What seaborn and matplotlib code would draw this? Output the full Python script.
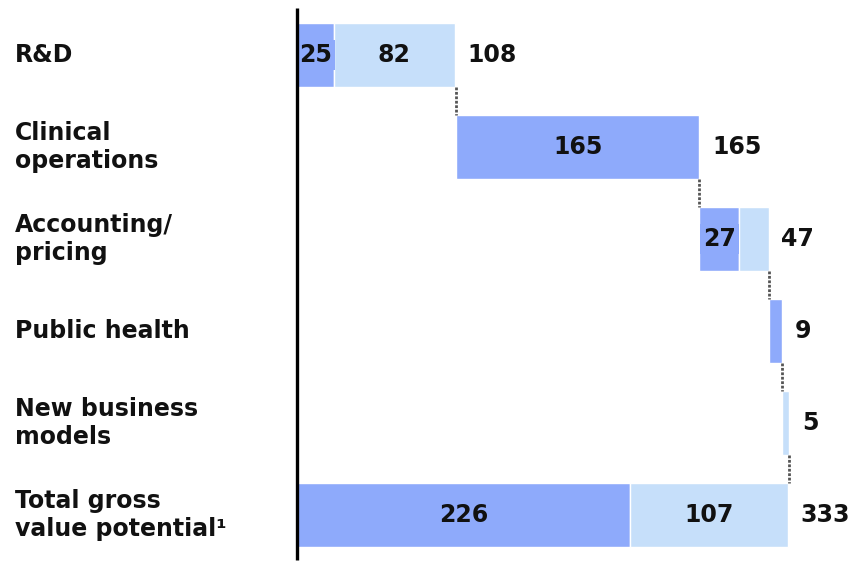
import matplotlib
matplotlib.use("Agg")
import matplotlib.pyplot as plt
import seaborn as sns
import numpy as np
import pandas as pd

# Gross value potential by area (two components per step, waterfall layout)
categories = [
    "R&D",
    "Clinical\noperations",
    "Accounting/\npricing",
    "Public health",
    "New business\nmodels",
    "Total gross\nvalue potential¹",
]
core_values = [25, 165, 27, 9, 0, 226]
extra_values = [82, 0, 20, 0, 5, 107]
totals = [108, 165, 47, 9, 5, 333]

DARK = "#8eaafb"
LIGHT = "#c6dffa"
TEXT = "#111111"

sns.set_theme(style="white")
plt.rcParams["font.family"] = ["DejaVu Sans"]
plt.rcParams["font.weight"] = "bold"

# each step starts where the previous one ended; the total row starts at zero
starts = np.concatenate([[0], np.cumsum(totals[:-2]), [0]])

df = pd.DataFrame({
    "category": categories,
    "core": core_values,
    "extra": extra_values,
    "start": starts,
})

W, H = 865, 564
fig = plt.figure(figsize=(W / 100, H / 100), dpi=100)
ax = fig.add_axes([297 / W, 0, (W - 297) / W, 1])

bar_kw = dict(orient="h", width=0.7, saturation=1, edgecolor="white",
              linewidth=1.0, ax=ax)
sns.barplot(data=df, y="category", x="core", color=DARK, **bar_kw)
n_core = len(ax.patches)
sns.barplot(data=df, y="category", x="extra", color=LIGHT, **bar_kw)

core_patches = ax.patches[:n_core]
extra_patches = ax.patches[n_core:]
for p, s, c in zip(core_patches, df["start"], df["core"]):
    p.set_x(s)
    if c == 0:
        p.set_visible(False)
for p, s, c, e in zip(extra_patches, df["start"], df["core"], df["extra"]):
    p.set_x(s + c)
    if e == 0:
        p.set_visible(False)

px_per_unit = 1.474
ax.set_xlim(0, (W - 297) / px_per_unit)
row_gap = 92
ax.set_ylim((H - 55) / row_gap, -55 / row_gap)
ax.set_axis_off()

# baseline at zero
ax.plot([0, 0], [-47 / row_gap, 505 / row_gap], color="black", lw=2.4,
        clip_on=False, zorder=6, solid_capstyle="butt")

FS = 17
# connectors between consecutive steps
for i in range(len(categories) - 1):
    x = df["start"][i] + totals[i]
    ax.plot([x, x], [i + 0.35, i + 0.65], color="#555555", lw=2,
            linestyle=(0, (1, 0.6)), zorder=1, clip_on=False)

# in-bar segment values (only where the segment is wide enough)
for i, row in df.iterrows():
    for start, val, col in ((row["start"], row["core"], DARK),
                            (row["start"] + row["core"], row["extra"], LIGHT)):
        if val >= 25:
            ax.text(start + val / 2, i, str(val), ha="center", va="center",
                    fontsize=FS, color=TEXT, zorder=5,
                    bbox=dict(boxstyle="square,pad=0.12", fc=col, ec="none"))
    end = row["start"] + row["core"] + row["extra"]
    ax.annotate(str(totals[i]), xy=(end, i), xytext=(9, 0),
                textcoords="offset points", ha="left", va="center",
                fontsize=FS, color=TEXT, annotation_clip=False)

# category labels
for i, label in enumerate(categories):
    fig.text(15 / W, 1 - (55 + row_gap * i) / H, label, ha="left",
             va="center", fontsize=FS, color=TEXT, linespacing=1.22)

fig.savefig("out.png", dpi=100)
